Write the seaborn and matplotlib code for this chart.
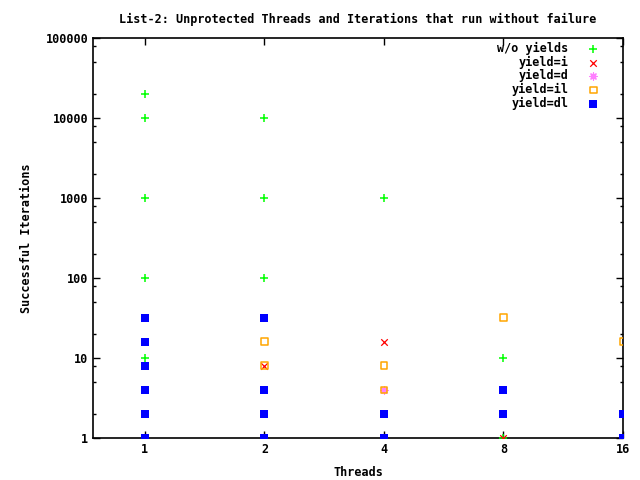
import matplotlib
matplotlib.use("Agg")
import matplotlib.pyplot as plt
import matplotlib.ticker as mticker
import seaborn as sns

# Data
noyield_x = [1, 1, 1, 1, 1, 2, 2, 2, 4, 8, 8]
noyield_y = [20000, 10000, 1000, 100, 10, 10000, 1000, 100, 1000, 10, 1]
yi_x = [2, 4, 8]
yi_y = [8, 16, 1]
yd_x = [4]
yd_y = [4]
yil_x = [2, 2, 4, 4, 8, 16]
yil_y = [16, 8, 8, 4, 32, 16]
ydl_x = [1, 1, 1, 1, 1, 1, 2, 2, 2, 2, 4, 4, 8, 8, 16, 16]
ydl_y = [1, 2, 4, 8, 16, 32, 1, 2, 4, 32, 1, 2, 2, 4, 1, 2]
xticks = [1, 2, 4, 8, 16]
yticks = [1, 10, 100, 1000, 10000, 100000]

FS = 8.5
font = {"family": "DejaVu Sans Mono", "weight": "bold", "size": FS}
plt.rcParams["font.family"] = "DejaVu Sans Mono"
plt.rcParams["font.weight"] = "bold"
plt.rcParams["font.size"] = FS

fig = plt.figure(figsize=(6.4, 4.8), dpi=100)
ax = fig.add_axes([93/640, 1-438/480, (623-93)/640, (438-38)/480])

sns.scatterplot(x=noyield_x, y=noyield_y, ax=ax, marker="+", color="#00ff00",
                s=30, linewidth=1.1, label="w/o yields", zorder=3)
sns.scatterplot(x=yi_x, y=yi_y, ax=ax, marker="x", color="#ff0000",
                s=22, linewidth=0.9, label="yield=i", zorder=4)
sns.scatterplot(x=yd_x, y=yd_y, ax=ax, marker=(8, 2, 0), color="#ff80ff",
                s=26, linewidth=0.9, label="yield=d", zorder=5)
sns.scatterplot(x=yil_x, y=yil_y, ax=ax, marker="s", facecolor="none",
                edgecolor="#ffa500", s=22, linewidth=1.1, label="yield=il", zorder=6)
sns.scatterplot(x=ydl_x, y=ydl_y, ax=ax, marker="s", color="#0000ff",
                s=27, linewidth=0, label="yield=dl", zorder=7)

ax.set_xscale("log", base=2)
ax.set_yscale("log")
ax.set_xlim(0.74, 16)
ax.set_ylim(1, 100000)
ax.xaxis.set_major_locator(mticker.FixedLocator(xticks))
ax.xaxis.set_major_formatter(mticker.FixedFormatter([str(v) for v in xticks]))
ax.xaxis.set_minor_locator(mticker.NullLocator())
ax.yaxis.set_major_locator(mticker.FixedLocator(yticks))
ax.yaxis.set_major_formatter(mticker.FixedFormatter([str(v) for v in yticks]))
ax.yaxis.set_minor_locator(mticker.LogLocator(base=10, subs=[2, 5, 8]))
ax.yaxis.set_minor_formatter(mticker.NullFormatter())

ax.tick_params(which="both", direction="in", top=True, right=True, width=1, labelsize=FS)
ax.tick_params(which="major", length=5)
ax.tick_params(which="minor", length=2.5)
for sp in ax.spines.values():
    sp.set_linewidth(1.2)
    sp.set_color("black")

ax.set_xlabel("Threads", fontdict=font, labelpad=7)
ax.set_ylabel("Successful Iterations", fontdict=font, labelpad=9)
ax.set_title("List-2: Unprotected Threads and Iterations that run without failure",
             fontdict=font, pad=11)

leg = ax.legend(loc="upper right", bbox_to_anchor=(0.955, 0.99), frameon=False,
                markerfirst=False, handlelength=1.0, handletextpad=1.6,
                borderaxespad=0, borderpad=0, labelspacing=0.05,
                prop={"family": "DejaVu Sans Mono", "weight": "bold", "size": FS})
for t in leg.get_texts():
    t.set_ha("right")
leg._legend_box.align = "right"

fig.savefig("out.png", dpi=100)
